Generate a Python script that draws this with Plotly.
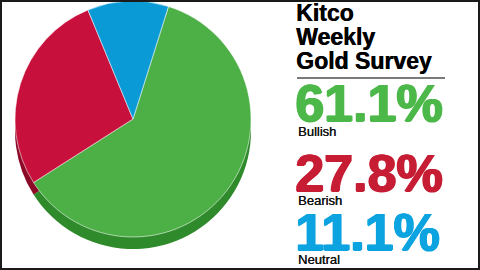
import plotly.graph_objects as go

# ---- data ----
categories = ["Bullish", "Bearish", "Neutral"]
values = [61.1, 27.8, 11.1]
value_labels = ["61.1%", "27.8%", "11.1%"]
title_lines = ["Kitco", "Weekly", "Gold Survey"]

# ---- styles ----
top_colors = ["#4db047", "#c8103c", "#0a9bd6"]
rim_colors = ["#2f8a2c", "#8c0a28", "#0a6d9c"]
text_colors = ["#4cb849", "#c61d34", "#0ba3e0"]

W, H = 480, 270

def px_x(x):
    return x / W

def px_y(y):
    return 1 - y / H

cx, cy, d = 133, 119, 236
rim = 12

fig = go.Figure()

# rim / 3D shadow pie
fig.add_trace(go.Pie(
    values=values, labels=categories, sort=False, direction="clockwise",
    rotation=17.5, textinfo="none", hoverinfo="skip", showlegend=False,
    marker=dict(colors=rim_colors, line=dict(width=0)),
    domain=dict(x=[px_x(cx - d / 2), px_x(cx + d / 2)],
                y=[px_y(cy + rim + d / 2), px_y(cy + rim - d / 2)]),
))
# top face pie
fig.add_trace(go.Pie(
    values=values, labels=categories, sort=False, direction="clockwise",
    rotation=17.5, textinfo="none", showlegend=False,
    marker=dict(colors=top_colors, line=dict(color="rgba(255,255,255,0.55)", width=1)),
    domain=dict(x=[px_x(cx - d / 2), px_x(cx + d / 2)],
                y=[px_y(cy + d / 2), px_y(cy - d / 2)]),
))

ann = []
font_b = "Liberation Sans, Arial, Helvetica, sans-serif"
# title
for txt, yc in zip(title_lines, [13.4, 37.3, 61.0]):
    ann.append(dict(text=f"<b>{txt}</b>", x=px_x(294), y=px_y(yc), xref="paper", yref="paper",
                    xanchor="left", yanchor="middle", showarrow=False,
                    font=dict(family=font_b, size=23, color="#000000",
                              shadow="0.6px 0 0 #000000")))
# percentages and labels
for lab, cat, col, yc, yl in zip(value_labels, categories, text_colors,
                                 [102.5, 173.3, 231.5], [131.3, 200.5, 259.0]):
    ann.append(dict(text=f"<b>{lab}</b>", x=px_x(293), y=px_y(yc), xref="paper", yref="paper",
                    xanchor="left", yanchor="middle", showarrow=False,
                    font=dict(family=font_b, size=52, color=col,
                              shadow=f"1.2px 0 0 {col}, -0.6px 0 0 {col}, 0 0.6px 0 {col}")))
    ann.append(dict(text=cat, x=px_x(296), y=px_y(yl), xref="paper", yref="paper",
                    xanchor="left", yanchor="middle", showarrow=False,
                    font=dict(family=font_b, size=13, color="#111111",
                              shadow="0.3px 0 0 #111111")))

shapes = [
    dict(type="line", xref="paper", yref="paper", x0=px_x(297), x1=px_x(445),
         y0=px_y(78), y1=px_y(78), line=dict(color="#7a7a7a", width=2)),
    dict(type="rect", xref="paper", yref="paper", x0=px_x(1), x1=px_x(W - 1),
         y0=px_y(H - 1), y1=px_y(1), line=dict(color="#1a1a1a", width=2)),
]

fig.update_layout(
    width=W, height=H, margin=dict(l=0, r=0, t=0, b=0),
    paper_bgcolor="white", plot_bgcolor="white",
    annotations=ann, shapes=shapes,
)

fig.write_html("out.html")
